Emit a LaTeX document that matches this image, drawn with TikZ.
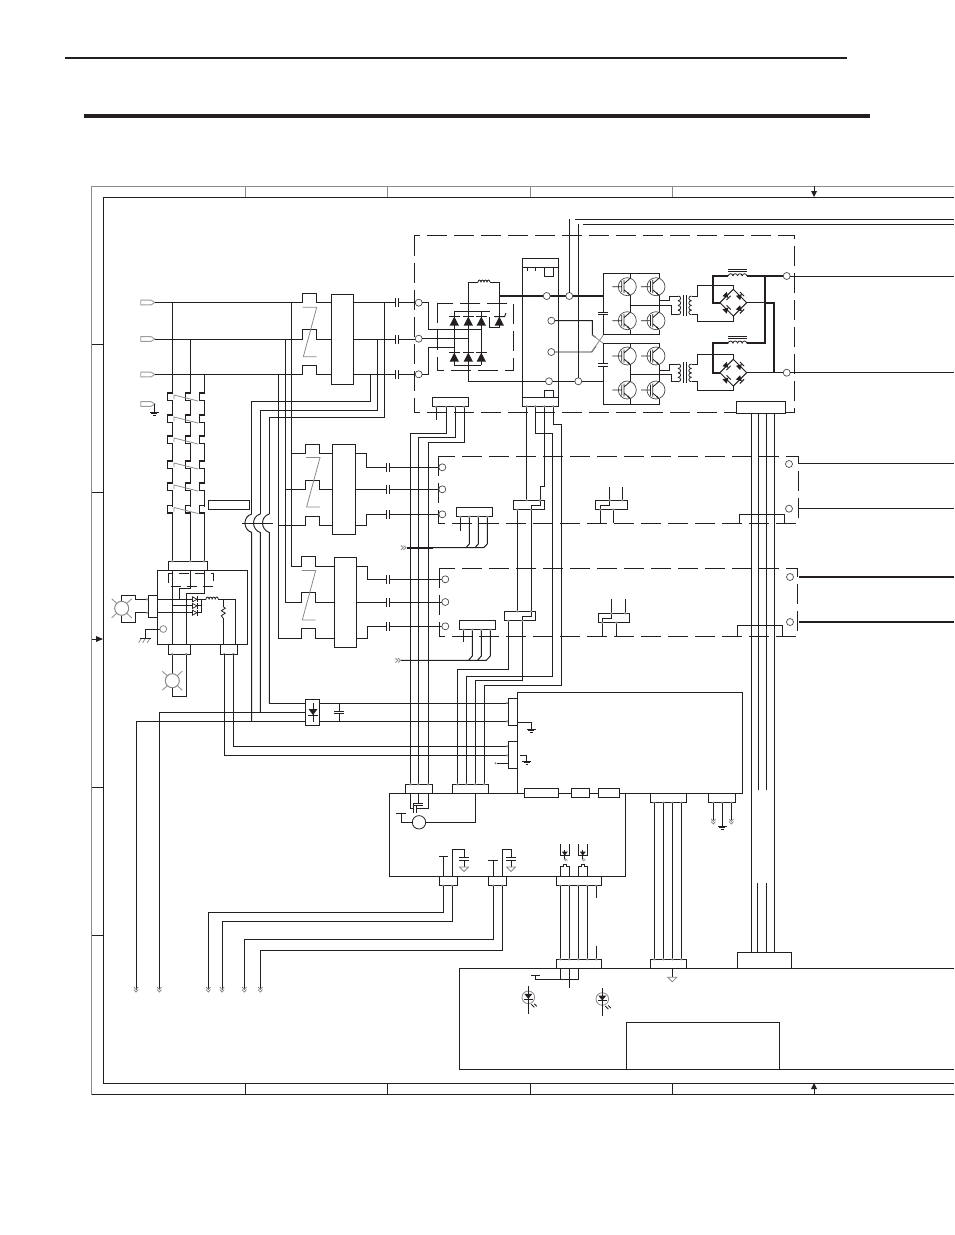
\documentclass[tikz,border=0pt]{standalone}
\usepackage{tikz}
\definecolor{ink}{HTML}{231F20}
\definecolor{soft}{HTML}{8A8A8A}
\definecolor{ring}{HTML}{4A4A4A}
\tikzset{
  wire/.style={draw=ink,line width=.95pt,line join=miter},
  thick wire/.style={draw=ink,line width=2pt,line join=miter},
  dashbox/.style={draw=ink,line width=.95pt,dash pattern=on 20pt off 7pt},
  blk/.style={draw=ink,fill=white,line width=.95pt,inner sep=0pt,outer sep=0pt,anchor=north west}
}
% named box: name, x1, y1, x2, y2
\newcommand\bx[5]{\pgfmathsetmacro\bw{#4-#2}\pgfmathsetmacro\bh{#5-#3}%
  \node[blk,minimum width=\bw pt,minimum height=\bh pt] (#1) at (#2,#3) {};}
\newcommand\pinset[2]{\foreach \px in {#2}{\fill[soft] (\px,#1) circle[radius=1.2pt];}}
\newcommand\chev[2]{\draw[soft,line width=.8pt] (#1-2.2,#2-3)--(#1,#2-.6)--(#1+2.2,#2-3) (#1-2.2,#2-.4)--(#1,#2+2)--(#1+2.2,#2-.4);}
\newcommand\chevh[2]{\draw[soft,line width=.8pt] (#1-3,#2-2.2)--(#1-.6,#2)--(#1-3,#2+2.2) (#1-.4,#2-2.2)--(#1+2,#2)--(#1-.4,#2+2.2);}
\newcommand\caph[2]{\fill[white] (#1,#2-2) rectangle (#1+3.2,#2+2);
  \draw[ink,line width=.95pt] (#1,#2-4.5)--(#1,#2+4.5) (#1+3.2,#2-4.5)--(#1+3.2,#2+4.5);}
\newcommand\capv[2]{\fill[white] (#1-2,#2) rectangle (#1+2,#2+2.6);
  \draw[ink,line width=.95pt] (#1-5,#2)--(#1+5,#2) (#1-5,#2+2.6)--(#1+5,#2+2.6);}
\newcommand\gnda[2]{\draw[ink,line width=.95pt] (#1-4.5,#2)--(#1+4.5,#2);
  \draw[ink,line width=1pt] (#1-3,#2+1.7)--(#1+3,#2+1.7) (#1-1.2,#2+3.2)--(#1+1.2,#2+3.2);}
\newcommand\gndt[2]{\draw[soft,line width=.8pt,fill=white] (#1-4.5,#2)--(#1+4.5,#2)--(#1,#2+4.5)--cycle;}
\newcommand\pent[1]{\draw[soft!85,line width=.9pt,fill=white] (140.7,#1-2.4)--(151,#1-2.4)--(155,#1)--(151,#1+2.4)--(140.7,#1+2.4)--cycle;}
\newcommand\kbrk[2]{\fill[white] (#1-1,#2-3) rectangle (#1+1,#2+2.5);
  \draw[ink,line width=1.3pt] (#1,#2-4)--(#1-4.6,#2-4)--(#1-4.6,#2+3.5)--(#1,#2+3.5);}
\newcommand\zz[2]{\draw[soft,line width=.8pt] (#1,#2)--(#1+14,#2)--(#1+.6,#2+49.5)--(#1+14,#2+49.5);}
\newcommand\dup[2]{\fill[ink] (#1-4.7,#2+4.7)--(#1+4.7,#2+4.7)--(#1,#2-4.3)--cycle;
  \draw[ink,line width=.95pt] (#1-5.2,#2-4.3)--(#1+5.2,#2-4.3);}
\newcommand\igbt[2]{\begin{scope}[shift={(#1,#2)}]
  \draw[ring,line width=.7pt] (0,0) circle[radius=9pt];
  \draw[ink,line width=.8pt] (-15,0)--(-5.5,0) (-5.5,-5.5)--(-5.5,5.5) (-3.3,-6.5)--(-3.3,6.5)
    (-3.3,-3)--(3,-8.5) (-3.3,3)--(3,8.5);
  \fill[ink] (3,8.5)--(1,5.6)--(0,6.9)--cycle;
\end{scope}}
\newcommand\vcoil[4]{\foreach \ci in {0,1,2,3}{\pgfmathsetmacro\ca{#2+\ci*#3}\pgfmathsetmacro\cb{#2+\ci*#3+#3}%
  \draw[ink,line width=.8pt] (#1,\ca) .. controls (#1+#4,\ca) and (#1+#4,\cb) .. (#1,\cb);}}
\newcommand\hres[3]{\foreach \ci in {0,1,2,3}{\pgfmathsetmacro\ca{#1+\ci*(#2-#1)/4}\pgfmathsetmacro\cb{#1+(\ci+1)*(#2-#1)/4}%
  \draw[ink,line width=.8pt] (\ca,#3) .. controls (\ca,#3-3) and (\cb,#3-3) .. (\cb,#3);}}
\newcommand\vres[3]{\draw[ink,line width=.8pt] (#1,#2)--(#1+2,#2+1.5)--(#1-2,#2+4)--(#1+2,#2+6.5)--(#1-2,#2+9)--(#1,#3);}
\newcommand\bdi[3]{\begin{scope}[shift={(#1,#2)},rotate=#3]
  \fill[ink] (-2.8,-3)--(-2.8,3)--(2.6,0)--cycle; \draw[ink,line width=.9pt] (2.8,-3)--(2.8,3);\end{scope}}
\newcommand\bridge[2]{\begin{scope}[shift={(#1,#2)}]
  \draw[ink,line width=.95pt] (0,-13.4)--(13.4,0)--(0,13.4)--(-13.4,0)--cycle;
  \bdi{-6.7}{-6.7}{-45}\bdi{6.7}{-6.7}{45}\bdi{-6.7}{6.7}{45}\bdi{6.7}{6.7}{-45}
\end{scope}}
\newcommand\choke[2]{\hres{#1}{#1+18.5}{#2}
  \draw[ink,line width=.8pt] (#1,#2-4.5)--(#1+18.5,#2-4.5) (#1,#2-6.5)--(#1+18.5,#2-6.5);}
\newcommand\fan[2]{\begin{scope}[shift={(#1,#2)}]
  \draw[soft,line width=1pt] (0,0) circle[radius=7pt];
  \draw[soft,line width=.8pt] (-5,-5)--(-10,-9.5) (5,-5)--(10,-9.5) (-5,5)--(-10,9.5) (5,5)--(10,9.5);
\end{scope}}
\newcommand\sdi[2]{\draw[ink,line width=.7pt,fill=white] (#1-2.5,#2-2.5)--(#1-2.5,#2+2.5)--(#1+2,#2)--cycle;
  \draw[ink,line width=.8pt] (#1+2.4,#2-3)--(#1+2.4,#2+3);}
\newcommand\opto[1]{\draw[wire] (#1-4.5,844.3)--(#1-4.5,855.5)--(#1+4.5,855.5)--(#1+4.5,844.3)
    (#1-4.5,876.3)--(#1-4.5,866)--(#1-1.5,866)--(#1-1.5,864)--(#1+2,864)--(#1+2,866)--(#1+4.5,866)--(#1+4.5,876.3);
  \fill[ink] (#1-3,851.5)--(#1+3,851.5)--(#1,855.5)--cycle;
  \draw[ink,line width=.9pt] (#1,850)--(#1,859);
  \draw[soft,line width=.7pt] (#1-1,859)--(#1+1,861) (#1+.5,858.5)--(#1+2.5,860.5);}
\newcommand\led[3]{\draw[soft,line width=.8pt] (#1,#2) circle[radius=6.3pt];
  \draw[ink,line width=.95pt] (#1,#3)--(#1,#3+27.5);
  \fill[ink] (#1-4,#2-3.5)--(#1+4,#2-3.5)--(#1,#2+1.5)--cycle;
  \draw[ink,line width=.9pt] (#1-4.5,#2+1.7)--(#1+4.5,#2+1.7);
  \draw[ink,line width=.9pt] (#1+3,#2+7)--(#1+6,#2+10) (#1+6,#2+6.5)--(#1+8.5,#2+9);}
\begin{document}
\begin{tikzpicture}[x=1pt,y=-1pt]
\useasboundingbox (0,0) rectangle (954,1235);
\fill[white] (0,0) rectangle (954,1235);
% ---- header rules
\draw[ink,line width=1.8pt] (65,58)--(847,58);
\draw[ink,line width=3.2pt] (84,116)--(870,116);
% ---- border
\draw[soft,line width=1pt] (954,186)--(91.5,186)--(91.5,1094)--(954,1094);
\draw[wire] (954,197)--(103,197)--(103,1083)--(954,1083);
\draw[wire] (91.5,1094)--(954,1094);
\draw[soft,line width=.8pt] (245,186)--(245,197) (387.5,186)--(387.5,197) (530.5,186)--(530.5,197) (672.5,186)--(672.5,197);
\draw[wire] (245,1083)--(245,1094) (387.5,1083)--(387.5,1094) (530.5,1083)--(530.5,1094) (672.5,1083)--(672.5,1094);
\draw[wire] (91.5,344)--(103,344) (91.5,492)--(103,492) (91.5,787)--(103,787) (91.5,935)--(103,935);
\draw[wire] (814,186)--(814,192) (814,1088)--(814,1094) (91.5,639)--(97,639);
\fill[ink] (811,191)--(817,191)--(814,197)--cycle (811,1089)--(817,1089)--(814,1083)--cycle (96,636)--(96,642)--(103,639)--cycle;
% ---- input lines and first contactor
\pent{302.5}\pent{339}\pent{374.5}\pent{404}
\draw[wire] (155,302.5)--(302,302.5)--(302,293.5)--(316.5,293.5)--(316.5,302.5)--(331,302.5);
\draw[wire] (155,339)--(302,339)--(302,329.5)--(316.5,329.5)--(316.5,339)--(331,339);
\draw[wire] (155,374.5)--(302,374.5)--(302,365.5)--(316.5,365.5)--(316.5,374.5)--(331,374.5);
\draw[wire] (172.3,302.5)--(172.3,561.3) (190.3,339)--(190.3,561.3) (204,374.5)--(204,561.3);
\draw[wire] (155,404)--(154.3,404)--(154.3,412); \gnda{154.3}{412}
\foreach \ry in {397,419,440,465,487,509.5}{
  \kbrk{172.3}{\ry}\kbrk{190.3}{\ry}\kbrk{204}{\ry}
  \draw[soft,line width=.8pt] (174,\ry+2)--(174,\ry-2)--(198,\ry+4);
}
\bx{kone}{331}{294.5}{353.5}{384.5}
\zz{302.7}{307.3}
% taps
\draw[wire] (353.5,302.5)--(414.5,302.5) (353.5,339)--(414.5,339) (353.5,374.5)--(414.5,374.5);
\draw[wire] (384.7,302.5)--(384.7,417)--(269.3,417)--(269.3,514);
\draw[wire] (377.5,339)--(377.5,410.5)--(260.3,410.5)--(260.3,514);
\draw[wire] (370.5,374.5)--(370.5,401.5)--(251.7,401.5)--(251.7,514);
\foreach \hx/\hy in {251.7/721,260.3/712.7,269.3/703.3}{
  \draw[wire] (\hx,514) .. controls (\hx-9,516.5) and (\hx-9,529.5) .. (\hx,532.5)--(\hx,\hy);
}
\draw[wire] (241.7,523.5)--(273,523.5);
\bx{filt}{208.3}{500.3}{249.7}{509.7}
% verticals to other contactors
\draw[wire] (291.7,302.5)--(291.7,566)--(301.7,566)--(301.7,556.5)--(315,556.5)--(315,566)--(334.3,566);
\draw[wire] (285,339)--(285,602.3)--(301.7,602.3)--(301.7,592.3)--(315,592.3)--(315,602.3)--(334.3,602.3);
\draw[wire] (278.3,374.5)--(278.3,638.3)--(301.7,638.3)--(301.7,628.3)--(315,628.3)--(315,638.3)--(334.3,638.3);
\draw[wire] (291.7,453.3)--(305,453.3)--(305,444.5)--(319.7,444.5)--(319.7,453.3)--(332.3,453.3);
\draw[wire] (285,489)--(305,489)--(305,480.3)--(319.7,480.3)--(319.7,489)--(332.3,489);
\draw[wire] (278.3,525)--(305,525)--(305,516)--(319.7,516)--(319.7,525)--(332.3,525);
\bx{ktwo}{332.3}{444.3}{355.7}{534.5}
\bx{kthree}{334.3}{557.3}{356.7}{647.3}
\zz{306}{457.5}\zz{301.7}{570.5}
% outputs of second and third contactors
\draw[wire] (355.7,453.3)--(366.7,453.3)--(366.7,467.3)--(438.5,467.3) (355.7,489.3)--(438.5,489.3)
  (355.7,525)--(366.7,525)--(366.7,514.3)--(438.5,514.3);
\draw[wire] (356.7,566)--(367,566)--(367,579.3)--(441.5,579.3) (356.7,602.3)--(441.5,602.3)
  (356.7,638.3)--(367,638.3)--(367,626.3)--(441.5,626.3);
\caph{395}{302.5}\caph{395}{339}\caph{395}{374.5}
\caph{386}{467.3}\caph{386}{489.3}\caph{386}{514.3}
\caph{386.5}{579.3}\caph{386.5}{602.3}\caph{386.5}{626.3}
% ---- dashed modules
\draw[dashbox] (414.3,235.7) rectangle (794.3,412);
\draw[dashbox] (437.3,303.3) rectangle (513.3,370.3);
\draw[dashbox] (438.3,456.3) rectangle (798,523.3);
\draw[dashbox] (439.3,568.3) rectangle (797.7,636.3);
\foreach \cx/\cy in {418.7/302.7,418.7/338.7,418.7/374.3,442.3/467.3,442.3/489.3,442.3/514.3,445.3/579.3,445.3/602,445.3/626.3,789/464,789/508.7,790/577,790/622}{
  \draw[ring,line width=.7pt,fill=white] (\cx,\cy) circle[radius=3.5pt];
}
% rectifier
\draw[wire] (422.2,302.7)--(428.3,302.7)--(428.3,329.5)--(481.3,329.5);
\draw[wire] (422.2,338.7)--(468.3,338.7);
\draw[wire] (422.2,374.3)--(428.3,374.3)--(428.3,347.3)--(454.3,347.3);
\draw[wire] (454.3,311.7)--(490,311.7) (454.3,365)--(481.3,365);
\draw[wire] (454.3,311.7)--(454.3,365) (468.3,282.3)--(468.3,381.7) (481.3,311.7)--(481.3,365);
\draw[wire] (468.3,282.3)--(478,282.3) (490,282.3)--(499.3,282.3)--(499.3,327)--(489.3,327)--(489.3,316.7);
\hres{478}{490}{282.3}
\foreach \dx in {454.3,468.3,481.3}{\dup{\dx}{321}\dup{\dx}{357}}
\dup{499.3}{321}
\draw[ink,line width=1pt] (495,316.7)--(504.5,316.7)--(506,313);
\draw[wire] (468.3,381.7)--(603.3,381.7);
% tall block
\bx{shunt}{522.3}{258.3}{558.7}{406.3}
\draw[wire] (522.3,267.5)--(558.7,267.5) (522.3,397.7)--(558.7,397.7);
\draw[wire] (527,267.5)--(527,271) (535.5,267.5)--(535.5,271) (544.3,267.5) rectangle (553.3,276) (544.3,390.7) rectangle (553.3,397.7);
\draw[thick wire] (499.3,296)--(603.3,296);
\draw[wire] (522.3,381.7)--(558.7,381.7);
\draw[wire] (554.8,320.7)--(592.3,320.7)--(592.3,335)--(596,337.5) (554.8,352)--(591.7,352)--(596,346);
\draw[soft,line width=.8pt] (592.3,335)--(603.3,343.3) (591.7,352)--(603.3,335);
\foreach \cx/\cy in {546.7/296,551.3/320.7,551.3/352,549/381.3,569.3/296,578.3/381.3,786.7/276,786.7/372.7}{
  \draw[ring,line width=.7pt,fill=white] (\cx,\cy) circle[radius=3.5pt];
}
\draw[wire] (569.3,219.3)--(569.3,292.5) (578.3,224.3)--(578.3,377.8);
\draw[wire] (575,219.3)--(954,219.3) (583,224.5)--(954,224.5);
% IGBT bridges
\draw[wire] (630,278)--(630,273.3)--(603.3,273.3)--(603.3,334.3)--(630,334.3)--(630,329.5);
\draw[wire] (630,273.3)--(659.3,273.3)--(659.3,278) (630,334.3)--(659.3,334.3)--(659.3,329.5);
\draw[wire] (630,295)--(630,312) (659.3,295)--(659.3,312);
\draw[wire] (630,347.5)--(630,343.3)--(603.3,343.3)--(603.3,404)--(630,404)--(630,399);
\draw[wire] (630,343.3)--(659.3,343.3)--(659.3,347.5) (630,404)--(659.3,404)--(659.3,399);
\draw[wire] (630,364.5)--(630,381.5) (659.3,364.5)--(659.3,381.5);
\foreach \tx in {627.3,656}{\foreach \ty in {286.7,320.7,356,390}{\igbt{\tx}{\ty}}}
\capv{603.3}{312}\capv{603.3}{363.5}
% transformers
\draw[wire] (659.3,300.7)--(669.3,300.7)--(669.3,296)--(678,296);
\draw[wire] (630,305)--(671.7,305)--(671.7,314.7)--(678,314.7);
\vcoil{678}{296}{4.7}{3.5}
\draw[ink,line width=.95pt] (683.3,295)--(683.3,315.5) (686,295)--(686,315.5);
\vcoil{691.5}{296}{4.7}{-3.5}
\draw[wire] (691.5,296)--(697.3,296)--(697.3,285.3)--(733.3,285.3)--(733.3,289.3);
\draw[wire] (691.5,314.8)--(697.3,314.8)--(697.3,321)--(733.3,321)--(733.3,316);
\draw[wire] (659.3,370)--(669.3,370)--(669.3,364)--(678,364);
\draw[wire] (630,374.7)--(671.7,374.7)--(671.7,381.7)--(678,381.7);
\vcoil{678}{364}{4.45}{3.5}
\draw[ink,line width=.95pt] (683.3,362)--(683.3,382.5) (686,362)--(686,382.5);
\vcoil{691.5}{364}{4.45}{-3.5}
\draw[wire] (691.5,364)--(697.3,364)--(697.3,354.7)--(733.3,354.7)--(733.3,359.3);
\draw[wire] (691.5,381.8)--(697.3,381.8)--(697.3,390.3)--(733.3,390.3)--(733.3,386);
\bridge{733.3}{302.7}\bridge{733.3}{372.7}
\draw[thick wire] (720,302.7)--(712.7,302.7)--(712.7,276)--(728.3,276);
\draw[thick wire] (747,276)--(783,276);
\draw[thick wire] (765,276)--(765,343.3)--(747,343.3);
\draw[thick wire] (728.3,343.3)--(712.7,343.3)--(712.7,372.7)--(720,372.7);
\draw[wire] (746.7,302.7)--(765,302.7);
\draw[thick wire] (765,302.7)--(774,302.7)--(774,372.7);
\draw[wire] (746.7,372.7)--(783,372.7);
\choke{728.3}{276}\choke{728.3}{343.3}
\draw[wire] (790.3,276)--(954,276) (790.3,372.7)--(954,372.7);
% right-side lines
\draw[wire] (799,463.7)--(954,463.7) (799,508.3)--(954,508.3);
\draw[thick wire] (799,577)--(954,577) (799,622)--(954,622);
% top connectors
\bx{cna}{432.3}{397.3}{468.7}{406.7}
\draw[wire] (436,406.7)--(436,420);
\draw[wire] (446,406.7)--(446,433.3)--(410.3,433.3)--(410.3,784.3);
\draw[wire] (455,406.7)--(455,437.5)--(418.3,437.5)--(418.3,784.3);
\draw[wire] (464,406.7)--(464,442)--(428.3,442)--(428.3,784.3);
\pinset{406.7}{436,446,455,464}
\bx{cnb}{522.3}{397.7}{558.7}{406.3}
\bx{cnc}{513.3}{500.3}{544.7}{509.7}
\bx{cnd}{504.3}{611.3}{535.7}{620.7}
\draw[wire] (526.7,406.3)--(526.7,500.3);
\draw[wire] (535.3,406.3)--(535.3,433.3)--(552.3,433.3)--(552.3,676)--(466.3,676)--(466.3,784.3);
\draw[wire] (544.3,406.3)--(544.3,486.7)--(540,486.7)--(540,505)--(531,505)--(531,509.7);
\draw[wire] (553.3,406.3)--(553.3,424.3)--(561.7,424.3)--(561.7,685.3)--(484.3,685.3)--(484.3,784.3);
\draw[wire] (517.3,509.7)--(517.3,611.3) (531,509.7)--(531,616)--(522.3,616)--(522.3,620.7);
\draw[wire] (508.3,620.7)--(508.3,669.3)--(457.3,669.3)--(457.3,784.3);
\draw[wire] (522.3,620.7)--(522.3,680)--(475.3,680)--(475.3,784.3);
\pinset{406.3}{526.7,535.3,544.3,553.3}\pinset{500.3}{526.7,540}\pinset{509.7}{517.3,531}\pinset{611.3}{517.3,531}\pinset{620.7}{508.3,522.3}
\bx{cne}{736.3}{401.3}{785.7}{413.3}
\draw[wire] (751.7,413.3)--(751.7,952.3) (774.5,413.3)--(774.5,952.3);
\draw[wire] (758.5,413.3)--(758.5,790) (766.7,413.3)--(766.7,790) (757.3,883)--(757.3,952.3) (766.3,883)--(766.3,952.3);
\draw[wire] (739.3,523.3)--(739.3,514.3)--(784.3,514.3)--(784.3,523.3);
\draw[wire] (737.3,636.3)--(737.3,625.3)--(782.7,625.3)--(782.7,636.3);
% module connectors 2 and 3
\bx{cnf}{456.3}{507.3}{492.7}{516.7}
\draw[wire] (460.3,516.7)--(460.3,530.5);
\draw[wire] (469.3,516.7)--(469.3,544)--(465.8,547.7) (478.3,516.7)--(478.3,544)--(474.8,547.7) (487.3,516.7)--(487.3,544)--(483.7,547.7)--(433,547.7);
\draw[thick wire] (407,547.7)--(433,547.7);
\chevh{404}{547.7}
\pinset{516.7}{460.3,469.3,478.3,487.3}
\bx{cng}{459.3}{620.3}{495.7}{629.7}
\draw[wire] (463.3,629.7)--(463.3,642);
\draw[wire] (472.3,629.7)--(472.3,656)--(468.5,660.3) (481.3,629.7)--(481.3,656)--(477.5,660.3) (490.3,629.7)--(490.3,656)--(486.3,660.3)--(401,660.3);
\chevh{398.5}{660.3}
\pinset{629.7}{463.3,472.3,481.3,490.3}
\bx{cnh}{595.3}{500.3}{627.7}{509.7}
\draw[wire] (609.7,487)--(609.7,505.3)--(600.3,505.3)--(600.3,523.3) (622.3,487)--(622.3,500.3) (613.3,509.7)--(613.3,523.3);
\pinset{500.3}{609.7,622.3}\pinset{509.7}{600.3,613.3}
\bx{cni}{598.3}{613.3}{629.7}{622.7}
\draw[wire] (611.3,599.3)--(611.3,618)--(602.3,618)--(602.3,636.3) (625.3,599.3)--(625.3,613.3) (616.3,622.7)--(616.3,636.3);
\pinset{613.3}{611.3,625.3}\pinset{622.7}{602.3,616.3}
% ---- upper-left fan module
\bx{fmod}{157.3}{570.3}{247.7}{644.7}
\bx{fta}{168.3}{561.3}{207.7}{570.3}
\pinset{561.3}{172.3,190.3,204}
\draw[ink,line width=.95pt,dash pattern=on 10pt off 6pt] (168.3,573.3) rectangle (213.3,586.7);
\draw[wire] (172.3,570.3)--(172.3,644.7);
\draw[wire] (190.3,570.3)--(190.3,588.3)--(179.3,588.3)--(179.3,599.3);
\draw[wire] (204,570.3)--(204,593.3)--(186.3,593.3)--(186.3,644.7);
\draw[wire] (157.3,599.3)--(206,599.3) (218.3,599.3)--(235.3,599.3)--(235.3,644.7);
\draw[wire] (172.3,605.7)--(201.7,605.7) (157.3,612.7)--(201.7,612.7) (201.7,599.3)--(201.7,612.7);
\hres{206}{218.3}{599.3}
\draw[wire] (223.3,599.3)--(223.3,606.7) (223.3,618.3)--(223.3,644.7);
\vres{223.3}{606.7}{618.3}
\sdi{195}{599.3}\sdi{195}{605.9}\sdi{195}{612.7}
\bx{fle}{148.3}{595.3}{157.3}{617.7}
\draw[wire] (148.3,599.3)--(135,599.3)--(135,595)--(121.7,595)--(121.7,601);
\draw[wire] (148.3,612.7)--(135,612.7)--(135,622.7)--(121.7,622.7)--(121.7,616);
\pinset{599.3}{147}\pinset{612.7}{147}
\fan{121.7}{608.3}
\draw[wire] (160,629)--(145.3,629)--(145.3,638.7);
\draw[soft,line width=.8pt,fill=white] (163.3,629) circle[radius=3.4pt];
\draw[wire] (140,638.7)--(150.5,638.7);
\draw[soft,line width=.8pt] (141,639)--(138.7,642.7) (145,639)--(142.7,642.7) (149.5,639)--(147.2,642.7);
\bx{fbl}{168.3}{644.7}{190.3}{654}
\bx{fbr}{220.3}{644.7}{237.7}{654}
\draw[wire] (172.3,654)--(172.3,673.7) (186.3,654)--(186.3,696)--(172.3,696)--(172.3,687.7);
\fan{172.3}{680.7}
\pinset{654}{172.3,186.3,224.3,233.3}
\draw[wire] (224.3,654)--(224.3,755.3)--(508.3,755.3);
\draw[wire] (233.3,654)--(233.3,746.3)--(508.3,746.3);
% ---- diode block
\draw[wire] (136,990)--(136,721)--(305.3,721) (159.3,990)--(159.3,712.7)--(305.3,712.7) (269.3,703.3)--(305.3,703.3);
\bx{dblk}{305.3}{699.3}{319.3}{725.3}
\draw[wire] (313,703)--(313,722);
\fill[ink] (308.5,709)--(317.5,709)--(313,715)--cycle;
\draw[ink,line width=1pt] (308,715.5)--(318,715.5);
\draw[wire] (319.3,703.3)--(508.3,703.3) (319.3,721)--(508.3,721) (339,703.3)--(339,721);
\capv{339}{711}
% ---- right power module
\bx{main}{517.3}{692.3}{742.3}{793.3}
\bx{mla}{508.3}{698.3}{517.3}{725.7}
\bx{mlb}{508.3}{741.3}{517.3}{768.7}
\pinset{703}{507}\pinset{721.3}{507}\pinset{746.3}{507}\pinset{755.3}{507}
\draw[wire] (497,763.3)--(508.3,763.3);
\fill[soft] (495.5,763.3) circle[radius=1.1pt];
\draw[wire] (517.3,722)--(531.3,722)--(531.3,729); \gnda{531.3}{729}
\draw[wire] (520,755.3)--(526.7,755.3)--(526.7,761); \gnda{526.7}{761}
% ---- lower-left control module
\bx{ctrl}{389.3}{793.3}{625.7}{876.3}
\bx{c1}{405.3}{784.3}{432.7}{793.3}
\bx{c2}{452.3}{784.3}{488.7}{793.3}
\pinset{784.3}{410.5,418.3,428.3,457.5,466.3,475.3,484.3}
\bx{s1}{524.3}{788}{558.7}{797.7}
\bx{s2}{571.3}{788}{589.7}{797.7}
\bx{s3}{598.3}{788}{619.7}{797.7}
\draw[wire] (410.7,793.3)--(410.7,808.3)--(428.3,808.3)--(428.3,793.3);
\caph{413.5}{808.3}
\draw[wire] (418.3,793.3)--(418.3,803.5);
\capv{418.3}{803}
\draw[wire] (412.3,822.3)--(401,822.3)--(401,813.3) (396,813.3)--(406,813.3);
\draw[wire] (425.7,822.3)--(475.3,822.3)--(475.3,793.3);
\draw[ink,line width=.8pt] (419,822.3) circle[radius=6.7pt];
% bottom connectors of control
\bx{d1}{439.3}{876.3}{457.7}{885.7}
\bx{d2}{488.3}{876.3}{506.7}{885.7}
\bx{d3}{556.3}{876.3}{601.7}{885.7}
\draw[wire] (443.3,876.3)--(443.3,856.3) (439,856.3)--(448,856.3);
\draw[wire] (452.3,876.3)--(452.3,849.3)--(464,849.3)--(464,867);
\capv{464}{857.5}\gndt{464}{867}
\draw[wire] (493,876.3)--(493,860.3) (488.3,860.3)--(497.7,860.3);
\draw[wire] (502.3,876.3)--(502.3,849.3)--(511,849.3)--(511,867);
\capv{511}{857.5}\gndt{511}{867}
\opto{564.8}\opto{582.8}
\pinset{885.7}{443.3,452.3,493.3,502.3,560.3,569.3,578.3,587.3,596.3}
\draw[wire] (443.3,885.7)--(443.3,912)--(208.3,912)--(208.3,990);
\draw[wire] (452.3,885.7)--(452.3,921.7)--(222,921.7)--(222,990);
\draw[wire] (493.3,885.7)--(493.3,939.3)--(244.3,939.3)--(244.3,990);
\draw[wire] (502.3,885.7)--(502.3,950.3)--(260.3,950.3)--(260.3,990);
\foreach \mx in {136,159.3,208.3,222,244.3,260.3}{\chev{\mx}{990}}
\draw[wire] (560.3,885.7)--(560.3,959.3) (569.3,885.7)--(569.3,959.3) (578.3,885.7)--(578.3,959.3) (587.3,885.7)--(587.3,959.3);
\draw[wire] (596.3,885.7)--(596.3,898) (596.3,945.5)--(596.3,959.3);
% lower right connectors
\bx{e1}{650.3}{793.3}{686.7}{802.7}
\bx{e2}{708.3}{793.3}{735.7}{802.7}
\pinset{802.7}{654.3,663.3,672.3,681.3,713.3,722.3,731.3}
\draw[wire] (654.3,802.7)--(654.3,959.3) (663.3,802.7)--(663.3,959.3) (672.3,802.7)--(672.3,959.3) (681.3,802.7)--(681.3,959.3);
\draw[wire] (713.3,802.7)--(713.3,820) (731.3,802.7)--(731.3,820) (722.3,802.7)--(722.3,826);
\chev{713.3}{822}\chev{731.3}{822}\gnda{722.3}{826}
% ---- bottom board
\draw[wire] (954,968.3)--(459.3,968.3)--(459.3,1069.3)--(954,1069.3);
\bx{inner}{626.3}{1022.3}{779.7}{1069.3}
\bx{g1}{556.3}{959.3}{601.7}{968.3}
\bx{g2}{650.3}{959.3}{686.7}{968.3}
\bx{g3}{737.3}{952.3}{791.7}{968.3}
\pinset{959.3}{560.3,569.3,578.3,587.3,596.3,654.3,663.3,672.3,681.3}
\draw[wire] (560.3,968.3)--(560.3,979)--(535.3,979)--(535.3,975.3) (531,975.3)--(540,975.3);
\draw[wire] (578.3,968.3)--(578.3,979)--(560.3,979) (569.3,968.3)--(569.3,988.3);
\draw[wire] (672.3,968.3)--(672.3,977.3); \gndt{672.3}{977.3}
\led{528.3}{997.3}{986.3}\led{602.3}{999}{988}
\end{tikzpicture}
\end{document}
